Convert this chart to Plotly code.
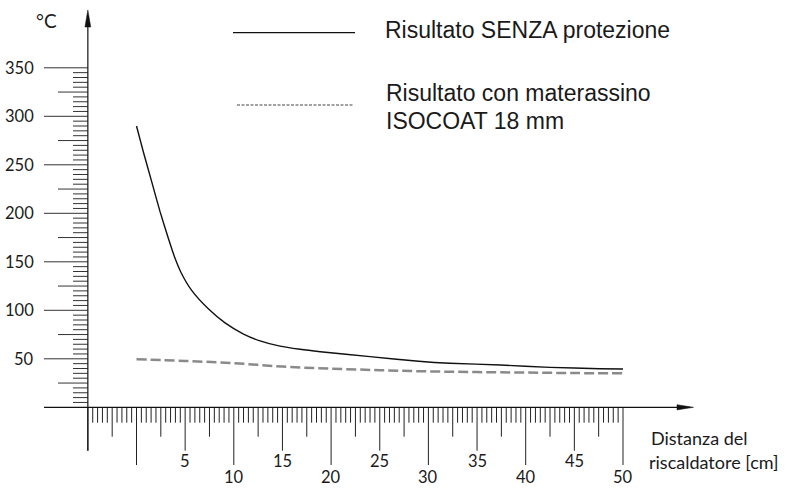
import plotly.graph_objects as go

# ---------------- data ----------------
dist_senza = [0.0, 0.7, 1.56, 2.42, 3.27, 3.96, 4.6, 5.67, 7.38, 9.1, 11.0, 12.7, 14.75, 16.8, 18.9, 24.0, 29.0, 32.2, 37.4, 42.5, 47.6, 50.0]
temp_senza = [290, 263.5, 232.6, 201.7, 174.2, 153.6, 138.5, 120.5, 101.5, 87.0, 75.5, 68.5, 63.0, 59.8, 57.3, 52.2, 47.5, 45.4, 43.6, 41.2, 39.8, 39.5]

dist_isocoat = [0, 5, 10, 15, 20, 25, 30, 35, 40, 45, 50]
temp_isocoat = [49.5, 47.8, 45.5, 42.0, 39.8, 38.3, 37.0, 36.3, 35.8, 35.3, 35.0]

y_tick_values = [50, 100, 150, 200, 250, 300, 350]
x_tick_values = [5, 10, 15, 20, 25, 30, 35, 40, 45, 50]

legend_senza = "Risultato SENZA protezione"
legend_isocoat = ["Risultato con materassino", "ISOCOAT 18 mm"]
y_title = "°C"
x_title = ["Distanza del", "riscaldatore [cm]"]

# ---------------- scale (pixel calibration of the drawing) ----------------
W, H = 787, 488
PX0, SX = 136.5, 9.73     # x=0 pixel, px per cm
PY0, SY = 407.3, 0.970    # y=0 pixel, px per degree

def xd(px):
    return (px - PX0) / SX

def yd(py):
    return (PY0 - py) / SY

X_AXIS = xd(87.85)  # where the y axis is drawn (x = -5)
LBL = dict(family="Lato, Noto Sans, sans-serif", size=16.5, color="#1a1a1a")
LEG = dict(family="Liberation Sans, Arial, sans-serif", size=23, color="#1a1a1a")

fig = go.Figure()

# ---- curves ----
fig.add_trace(go.Scatter(x=dist_senza, y=temp_senza, mode="lines",
                         line=dict(color="#111111", width=1.4, shape="spline", smoothing=0.6),
                         hoverinfo="skip", showlegend=False))
fig.add_trace(go.Scatter(x=dist_isocoat, y=temp_isocoat, mode="lines",
                         line=dict(color="#8a8a8a", width=2.5, dash="10px,4px", shape="spline"),
                         hoverinfo="skip", showlegend=False))

# ---- ticks ----
def seg_trace(xs, ys, color="#222222", width=1.0):
    fig.add_trace(go.Scatter(x=xs, y=ys, mode="lines", line=dict(color=color, width=width),
                             hoverinfo="skip", showlegend=False))

# x-axis ticks every 0.5 cm from -5 to 50
tx, ty = [], []
for i in range(-10, 101):
    v = i * 0.5
    if i % 20 == 0:
        end = yd(465)
    elif i % 10 == 0:
        end = yd(450.7)
    elif i % 5 == 0:
        end = yd(436.7)
    else:
        end = yd(422.7)
    tx += [v, v, None]
    ty += [0, end, None]
seg_trace(tx, ty)

# y-axis ticks every 5 degrees
ux, uy = [], []
for v in range(5, 351, 5):
    if v % 50 == 0:
        start = xd(44)
    elif v % 25 == 0:
        start = xd(58)
    else:
        start = xd(73)
    ux += [start, X_AXIS, None]
    uy += [v, v, None]
seg_trace(ux, uy, color="#333333")

# axis lines
seg_trace([xd(44), xd(680)], [0, 0], color="#111111", width=1.2)
seg_trace([X_AXIS, X_AXIS], [yd(450.7), yd(24)], color="#111111", width=1.2)

# arrowheads
fig.add_trace(go.Scatter(x=[X_AXIS, X_AXIS - 2.9 / SX, X_AXIS + 2.9 / SX, X_AXIS],
                         y=[yd(10), yd(27), yd(27), yd(10)], mode="lines", fill="toself",
                         fillcolor="#111111", line=dict(color="#111111", width=0.5),
                         hoverinfo="skip", showlegend=False))
fig.add_trace(go.Scatter(x=[xd(693.5), xd(677), xd(677), xd(693.5)],
                         y=[0, 2.6 / SY, -2.6 / SY, 0], mode="lines", fill="toself",
                         fillcolor="#111111", line=dict(color="#111111", width=0.5),
                         hoverinfo="skip", showlegend=False))

# legend samples
seg_trace([xd(233), xd(355)], [yd(32.7), yd(32.7)], color="#111111", width=1.2)
fig.add_trace(go.Scatter(x=[xd(237), xd(353)], y=[yd(105), yd(105)], mode="lines",
                         line=dict(color="#444444", width=1.0, dash="3px,1.5px"),
                         hoverinfo="skip", showlegend=False))

# ---- annotations ----
ann = []
for v in y_tick_values:
    ann.append(dict(x=xd(36), y=v, text=str(v), xanchor="right", yanchor="middle",
                    showarrow=False, font=LBL))
for v in x_tick_values:
    ypos = yd(476.5) if v % 10 == 0 else yd(461)
    ann.append(dict(x=v, y=ypos, text=str(v), xanchor="center", yanchor="middle",
                    showarrow=False, font=LBL))
ann.append(dict(x=xd(46), y=yd(20), text=y_title, xanchor="center", yanchor="middle",
                showarrow=False, font=dict(LBL, size=19)))
ann.append(dict(x=xd(649), y=yd(438), text=x_title[0], xanchor="left", yanchor="middle",
                showarrow=False, font=dict(LBL, size=18)))
ann.append(dict(x=xd(647), y=yd(462), text=x_title[1], xanchor="left", yanchor="middle",
                showarrow=False, font=dict(LBL, size=18)))
ann.append(dict(x=xd(383), y=yd(30), text=legend_senza, xanchor="left", yanchor="middle",
                showarrow=False, font=LEG))
ann.append(dict(x=xd(384), y=yd(92.5), text=legend_isocoat[0], xanchor="left", yanchor="middle",
                showarrow=False, font=LEG))
ann.append(dict(x=xd(384), y=yd(121), text=legend_isocoat[1], xanchor="left", yanchor="middle",
                showarrow=False, font=LEG))

fig.update_layout(
    width=W, height=H,
    margin=dict(l=0, r=0, t=0, b=0),
    paper_bgcolor="white", plot_bgcolor="white",
    xaxis=dict(range=[xd(0), xd(W)], visible=False, fixedrange=True),
    yaxis=dict(range=[yd(H), yd(0)], visible=False, fixedrange=True),
    annotations=ann,
    showlegend=False,
)

fig.write_html("out.html", config={"displayModeBar": False},
               post_script="document.body.style.margin='0';document.body.style.overflow='hidden';")
